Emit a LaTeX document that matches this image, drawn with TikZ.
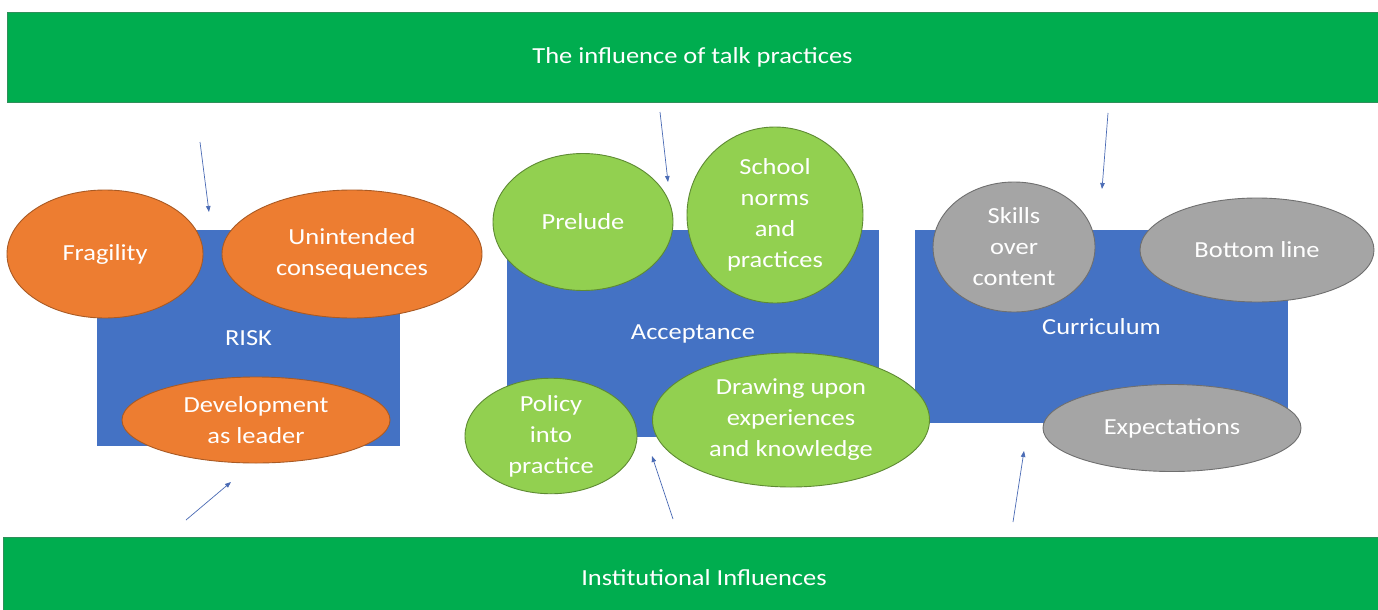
\documentclass[tikz,border=0pt]{standalone}
\usepackage{fontspec}
\setmainfont[FakeStretch=1.15]{Carlito}
\usetikzlibrary{shapes.geometric,arrows.meta}
\definecolor{bargreen}{HTML}{00AD4F}
\definecolor{barline}{HTML}{2F8F5A}
\definecolor{boxblue}{HTML}{4472C4}
\definecolor{ora}{HTML}{ED7D31}
\definecolor{oraline}{HTML}{A95A24}
\definecolor{lgreen}{HTML}{92D050}
\definecolor{lgreenline}{HTML}{5E8A33}
\definecolor{gry}{HTML}{A5A5A5}
\definecolor{gryline}{HTML}{6F6F6F}
\definecolor{arrblue}{HTML}{4A6BB5}
\tikzset{
  bar/.style={fill=bargreen, draw=barline, line width=0.8pt, text=white, font=\fontsize{23}{28}\selectfont, inner sep=0pt},
  bigbox/.style={rectangle, fill=boxblue, text=white, font=\fontsize{23}{28}\selectfont, inner sep=0pt},
  bub/.style={ellipse, inner sep=0pt, line width=0.9pt, text=white, align=center, font=\fontsize{23}{31}\selectfont},
  obub/.style={bub, fill=ora, draw=oraline},
  gbub/.style={bub, fill=lgreen, draw=lgreenline},
  ybub/.style={bub, fill=gry, draw=gryline},
  infl/.style={draw=arrblue, line width=0.7pt, -{Triangle[length=6pt,width=4.5pt]}}
}
\begin{document}
\begin{tikzpicture}[x=1pt,y=-1pt]
\useasboundingbox (0,0) rectangle (1378,610);
\fill[white] (0,0) rectangle (1378,610);
% bars
\node[bar, minimum width=1371, minimum height=90] (top) at (692.5,57) {The influence of talk practices};
\node[bar, minimum width=1376, minimum height=75] (bottom) at (691,574.5) {};
\node[text=white, font=\fontsize{23}{28}\selectfont] (bottomtext) at (704,578) {Institutional Influences};
% big boxes
\node[bigbox, minimum width=303, minimum height=216] (risk) at (248.5,338) {RISK};
\node[bigbox, minimum width=372, minimum height=207] (acc) at (693,333.5) {Acceptance};
\node[bigbox, minimum width=373, minimum height=193] (cur) at (1101.5,326.5) {Curriculum};
% RISK bubbles
\node[obub, minimum width=196, minimum height=128] (frag) at (105,254) {Fragility};
\node[obub, minimum width=260, minimum height=128] (unint) at (352,254) {Unintended\\consequences};
\node[obub, minimum width=268, minimum height=86] (dev) at (256,420) {Development\\as leader};
% Acceptance bubbles
\node[gbub, minimum width=180, minimum height=137] (prel) at (583,222) {Prelude};
\node[gbub, minimum width=176, minimum height=176] (school) at (775,215) {School\\norms\\and\\practices};
\node[gbub, minimum width=172, minimum height=104] (policy) at (551,436) {Policy\\into\\practice};
\node[gbub, minimum width=277, minimum height=134] (draw) at (791,420) {Drawing upon\\experiences\\and knowledge};
% Curriculum bubbles
\node[ybub, minimum width=162, minimum height=130] (skills) at (1014,247) {Skills\\over\\content};
\node[ybub, minimum width=234, minimum height=104] (bline) at (1257,250) {Bottom line};
\node[ybub, minimum width=258, minimum height=87] (expec) at (1172,428) {Expectations};
% arrows
\coordinate (a1s) at (200,142); \coordinate (a1e) at (209,212);
\coordinate (a2s) at (186,520); \coordinate (a2e) at (231,482);
\coordinate (a3s) at (660,112); \coordinate (a3e) at (668,182);
\coordinate (a4s) at (673,519); \coordinate (a4e) at (652,456);
\coordinate (a5s) at (1108,113); \coordinate (a5e) at (1102,189);
\coordinate (a6s) at (1013,522); \coordinate (a6e) at (1024,451);
\draw[infl] (a1s) -- (a1e);
\draw[infl] (a2s) -- (a2e);
\draw[infl] (a3s) -- (a3e);
\draw[infl] (a4s) -- (a4e);
\draw[infl] (a5s) -- (a5e);
\draw[infl] (a6s) -- (a6e);
\end{tikzpicture}
\end{document}
